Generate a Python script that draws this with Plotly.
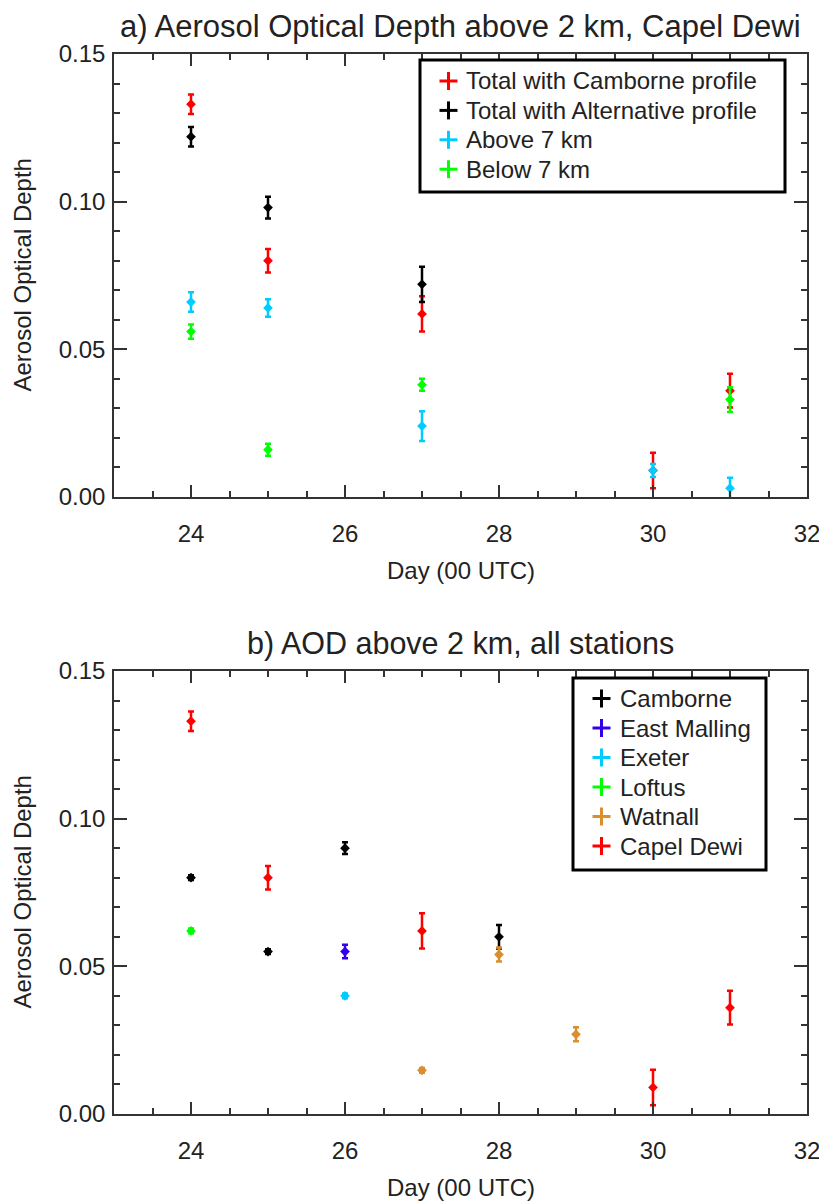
import plotly.graph_objects as go

W, H = 819, 1201

# ---------- Panel a data (Capel Dewi) ----------
days_cam = [24, 25, 27, 30, 31]
aod_cam = [0.133, 0.080, 0.062, 0.009, 0.036]
err_cam = [0.0033, 0.004, 0.006, 0.006, 0.0057]

days_alt = [24, 25, 27]
aod_alt = [0.122, 0.098, 0.072]
err_alt = [0.0033, 0.0037, 0.006]

days_above = [24, 25, 27, 30, 31]
aod_above = [0.066, 0.064, 0.024, 0.009, 0.003]
err_above = [0.0033, 0.003, 0.005, 0.0022, 0.0035]

days_below = [24, 25, 27, 31]
aod_below = [0.056, 0.016, 0.038, 0.033]
err_below = [0.0024, 0.002, 0.002, 0.0042]

# ---------- Panel b data (all stations) ----------
days_camborne = [24, 25, 26, 28]
aod_camborne = [0.080, 0.055, 0.090, 0.060]
err_camborne = [0.0008, 0.0008, 0.002, 0.004]

days_eastm = [26]
aod_eastm = [0.055]
err_eastm = [0.0023]

days_exeter = [26]
aod_exeter = [0.040]
err_exeter = [0.0008]

days_loftus = [24]
aod_loftus = [0.062]
err_loftus = [0.0008]

days_watnall = [27, 28, 29]
aod_watnall = [0.0148, 0.054, 0.027]
err_watnall = [0.0008, 0.0024, 0.0024]

days_capel = days_cam
aod_capel = aod_cam
err_capel = err_cam

RED = "#FF0000"
BLACK = "#000000"
CYAN = "#00CCFF"
GREEN = "#00FF00"
BLUE = "#3300EE"
ORANGE = "#DA8E2E"

names_a = ["Total with Camborne profile", "Total with Alternative profile",
           "Above 7 km", "Below 7 km"]
colors_a = [RED, BLACK, CYAN, GREEN]
names_b = ["Camborne", "East Malling", "Exeter", "Loftus", "Watnall", "Capel Dewi"]
colors_b = [BLACK, BLUE, CYAN, GREEN, ORANGE, RED]

FONT = "Liberation Sans, Arial, Helvetica, sans-serif"
TXT = "#222222"

fig = go.Figure()

def add_series(x, y, e, color, name, xa, ya):
    fig.add_trace(go.Scatter(
        x=x, y=y, mode="markers", xaxis=xa, yaxis=ya, name=name, showlegend=False,
        marker=dict(symbol="diamond", size=7.5, color=color, line=dict(width=0)),
        error_y=dict(type="data", array=e, visible=True, color=color,
                     thickness=2.5, width=3),
    ))

series_a = [(days_cam, aod_cam, err_cam), (days_alt, aod_alt, err_alt),
            (days_above, aod_above, err_above), (days_below, aod_below, err_below)]
for (x, y, e), c, n in zip(series_a, colors_a, names_a):
    add_series(x, y, e, c, n, "x", "y")

series_b = [(days_camborne, aod_camborne, err_camborne), (days_eastm, aod_eastm, err_eastm),
            (days_exeter, aod_exeter, err_exeter), (days_loftus, aod_loftus, err_loftus),
            (days_watnall, aod_watnall, err_watnall), (days_capel, aod_capel, err_capel)]
for (x, y, e), c, n in zip(series_b, colors_b, names_b):
    add_series(x, y, e, c, n, "x2", "y2")

xl, xr = 114, 807
ya_top, ya_bot = 54, 497
yb_top, yb_bot = 671, 1114
AX = "#333333"

def xaxis_cfg(anchor):
    return dict(
        domain=[xl / W, xr / W], anchor=anchor, range=[23, 32],
        tick0=0, dtick=2, ticks="inside", ticklen=12, tickwidth=1.5,
        tickcolor=AX, showline=True, linecolor=AX, linewidth=1.5,
        mirror="ticks", showgrid=False, zeroline=False,
        tickfont=dict(family=FONT, size=24, color=TXT),
        ticklabelstandoff=14, ticklabeloverflow="allow",
        minor=dict(dtick=0.5, ticks="inside", ticklen=6, tickwidth=1.5,
                   tickcolor=AX, showgrid=False),
        automargin=False,
    )

def yaxis_cfg(anchor, top, bot):
    return dict(
        domain=[1 - bot / H, 1 - top / H], anchor=anchor, range=[0, 0.15],
        tick0=0, dtick=0.05, tickformat=".2f", ticks="inside", ticklen=13,
        tickwidth=1.5, tickcolor=AX, showline=True, linecolor=AX,
        linewidth=1.5, mirror="ticks", showgrid=False, zeroline=False,
        tickfont=dict(family=FONT, size=24, color=TXT),
        ticklabelstandoff=2, ticklabeloverflow="allow",
        minor=dict(dtick=0.01, ticks="inside", ticklen=6.5, tickwidth=1.5,
                   tickcolor=AX, showgrid=False),
        automargin=False,
    )

annotations = []
shapes = []

def add_text(text, x, y, size, angle=0, xanchor="center", color=TXT):
    annotations.append(dict(
        text=text, x=x / W, y=1 - y / H, xref="paper", yref="paper",
        showarrow=False, xanchor=xanchor, yanchor="middle", textangle=angle,
        font=dict(family=FONT, size=size, color=color),
    ))

cx = (xl + xr) / 2
add_text("a) Aerosol Optical Depth above 2 km, Capel Dewi", cx, 26, 31)
add_text("b) AOD above 2 km, all stations", cx, 643, 30.5)
add_text("Day (00 UTC)", cx, 570, 24)
add_text("Day (00 UTC)", cx, 1187, 24)
add_text("Aerosol Optical Depth", 22, (ya_top + ya_bot) / 2, 24, -90)
add_text("Aerosol Optical Depth", 22, (yb_top + yb_bot) / 2, 24, -90)

def px_line(x0, y0, x1, y1, color, width):
    shapes.append(dict(type="line", xref="paper", yref="paper",
                       x0=x0 / W, x1=x1 / W, y0=1 - y0 / H, y1=1 - y1 / H,
                       line=dict(color=color, width=width)))

def draw_legend(names, colors, box, sym_x, text_x, row0, dy):
    x0, y0, x1, y1 = box
    shapes.append(dict(type="rect", xref="paper", yref="paper",
                       x0=x0 / W, x1=x1 / W, y0=1 - y1 / H, y1=1 - y0 / H,
                       line=dict(color="black", width=3), fillcolor="white",
                       layer="above"))
    for i, (n, c) in enumerate(zip(names, colors)):
        yc = row0 + i * dy
        half = 9
        px_line(sym_x - half, yc, sym_x + half, yc, c, 3)
        px_line(sym_x, yc - half, sym_x, yc + half, c, 3)
        add_text(n, text_x, yc, 24, xanchor="left")

draw_legend(names_a, colors_a, (420, 60, 785, 192), 448.5, 464, 81, 29.4)
draw_legend(names_b, colors_b, (573, 678, 766, 870), 601.5, 618, 698.5, 29.5)

fig.update_layout(
    width=W, height=H,
    margin=dict(l=0, r=0, t=0, b=0),
    paper_bgcolor="white", plot_bgcolor="white",
    xaxis=xaxis_cfg("y"), yaxis=yaxis_cfg("x", ya_top, ya_bot),
    xaxis2=xaxis_cfg("y2"), yaxis2=yaxis_cfg("x2", yb_top, yb_bot),
    annotations=annotations, shapes=shapes,
    showlegend=False,
)

fig.write_html("out.html")
